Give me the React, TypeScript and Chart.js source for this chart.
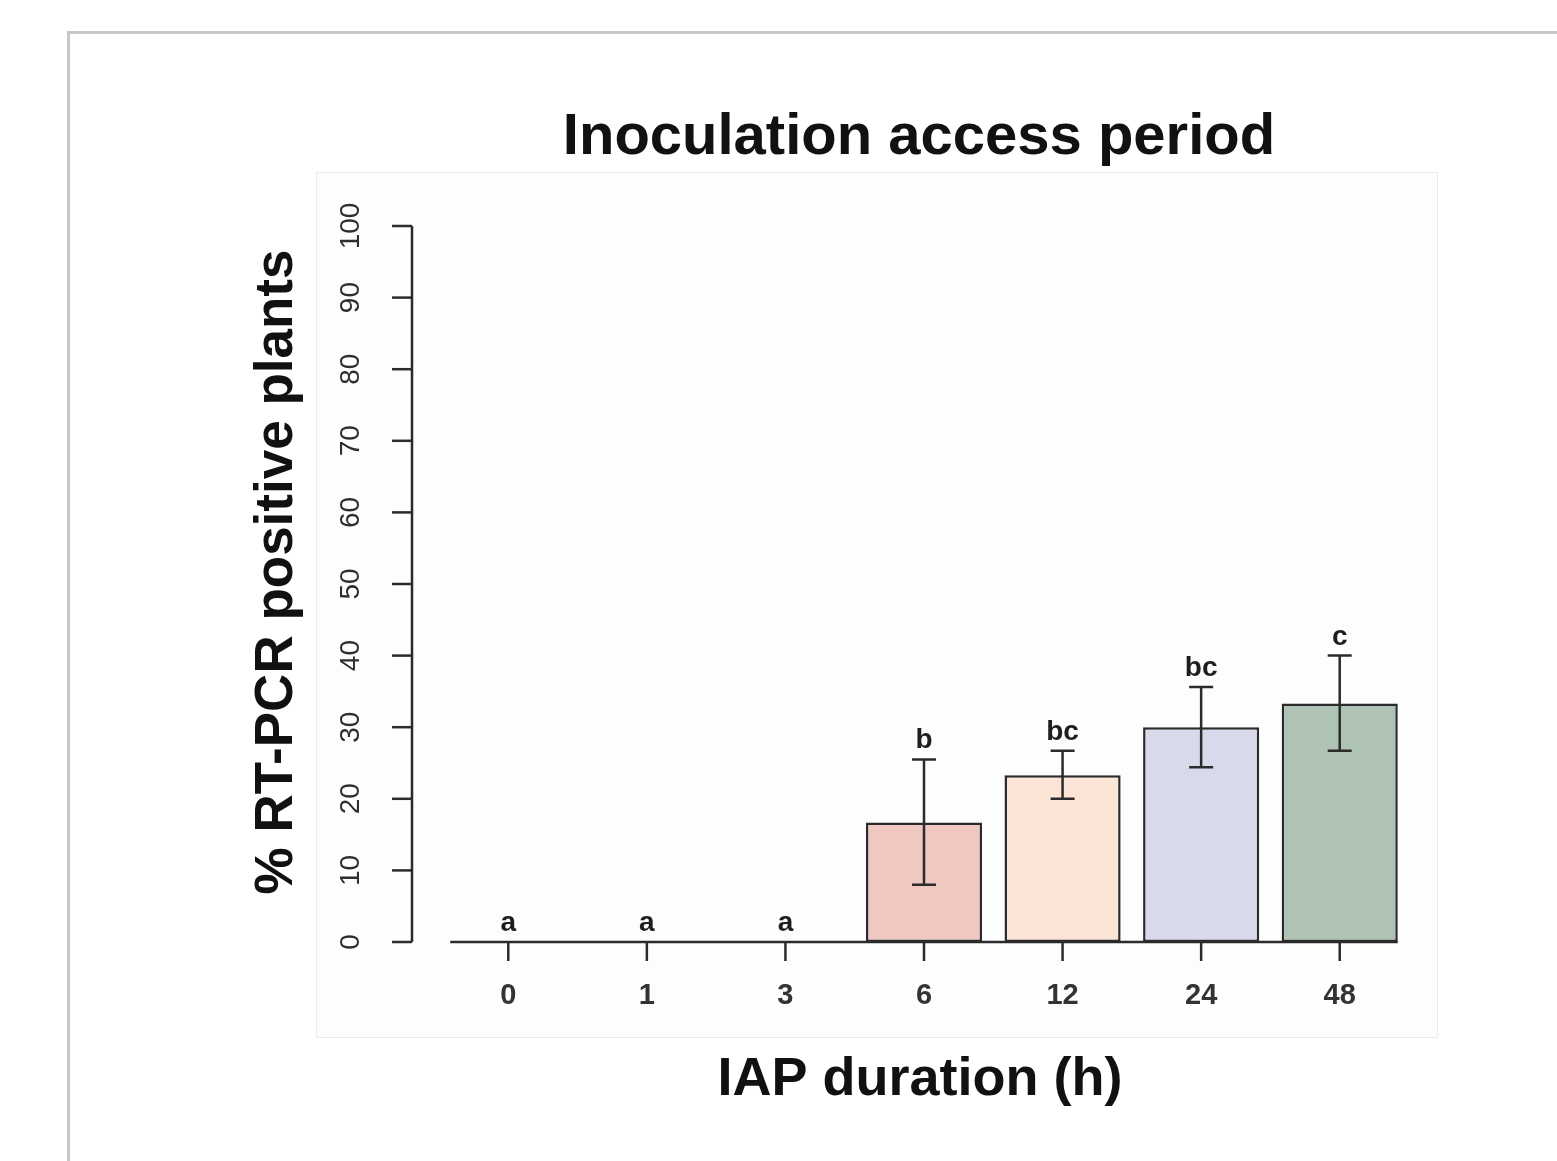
import React, { useEffect, useRef } from "react";
import { Chart, registerables } from "chart.js";

Chart.register(...registerables);

const categories = ["0", "1", "3", "6", "12", "24", "48"];
const values = [0, 0, 0, 16.7, 23.3, 30.0, 33.3];
const errLow = [null, null, null, 8.0, 20.0, 24.4, 26.7];
const errHigh = [null, null, null, 25.5, 26.7, 35.6, 40.0];
const letters = ["a", "a", "a", "b", "bc", "bc", "c"];
const barColors = ["#ffffff", "#ffffff", "#ffffff", "#f1c7c2", "#fce5d7", "#d8d9eb", "#aec3b4"];
const yTicks = [0, 10, 20, 30, 40, 50, 60, 70, 80, 90, 100];

const titleText = "Inoculation access period";
const xTitle = "IAP duration (h)";
const yTitle = "% RT-PCR positive plants";

const W = 1557;
const H = 1161;
const FONT = "'Liberation Sans', Arial, sans-serif";

const rAxesPlugin = {
  id: "rAxes",
  afterDatasetsDraw(chart: any) {
    const ctx = chart.ctx;
    const x = chart.scales.x;
    const y = chart.scales.y;
    const meta = chart.getDatasetMeta(0);
    const ink = "#2b2b2b";
    ctx.save();
    ctx.strokeStyle = ink;
    ctx.fillStyle = ink;
    ctx.lineWidth = 2.5;
    ctx.lineCap = "butt";

    // y axis (R style, offset to the left)
    const axX = 412;
    const y0 = y.getPixelForValue(yTicks[0]);
    const y1 = y.getPixelForValue(yTicks[yTicks.length - 1]);
    ctx.beginPath();
    ctx.moveTo(axX, y0);
    ctx.lineTo(axX, y1);
    ctx.stroke();
    ctx.font = `28px ${FONT}`;
    ctx.textAlign = "center";
    ctx.textBaseline = "middle";
    ctx.fillStyle = "#2e2e2e";
    yTicks.forEach((v) => {
      const py = y.getPixelForValue(v);
      ctx.beginPath();
      ctx.moveTo(axX - 20, py);
      ctx.lineTo(axX, py);
      ctx.stroke();
      ctx.save();
      ctx.translate(351, py);
      ctx.rotate(-Math.PI / 2);
      ctx.fillText(String(v), 0, 0);
      ctx.restore();
    });

    // x axis line across bars
    const first = meta.data[0];
    const last = meta.data[meta.data.length - 1];
    const base = y.getPixelForValue(0);
    ctx.beginPath();
    ctx.moveTo(first.x - first.width / 2, base);
    ctx.lineTo(last.x + last.width / 2, base);
    ctx.stroke();
    ctx.font = `bold 29px ${FONT}`;
    ctx.fillStyle = "#333";
    ctx.textBaseline = "middle";
    categories.forEach((c, i) => {
      const px = x.getPixelForValue(i);
      ctx.beginPath();
      ctx.moveTo(px, base);
      ctx.lineTo(px, base + 19);
      ctx.stroke();
      ctx.fillText(c, px, base + 54);
    });

    // error bars
    ctx.strokeStyle = ink;
    ctx.lineWidth = 2.5;
    meta.data.forEach((bar: any, i: number) => {
      const lo = errLow[i];
      const hi = errHigh[i];
      if (lo == null || hi == null) return;
      const pl = y.getPixelForValue(lo);
      const ph = y.getPixelForValue(hi);
      ctx.beginPath();
      ctx.moveTo(bar.x, pl);
      ctx.lineTo(bar.x, ph);
      ctx.moveTo(bar.x - 12, pl);
      ctx.lineTo(bar.x + 12, pl);
      ctx.moveTo(bar.x - 12, ph);
      ctx.lineTo(bar.x + 12, ph);
      ctx.stroke();
    });

    // significance letters
    ctx.font = `bold 28px ${FONT}`;
    ctx.fillStyle = "#1e1e1e";
    ctx.textBaseline = "alphabetic";
    meta.data.forEach((bar: any, i: number) => {
      const hi = errHigh[i];
      const top = hi != null ? y.getPixelForValue(hi) : y.getPixelForValue(0);
      ctx.fillText(letters[i], bar.x, top - 11);
    });

    // titles
    ctx.fillStyle = "#111";
    ctx.font = `bold 58px ${FONT}`;
    ctx.textBaseline = "alphabetic";
    ctx.fillText(titleText, 919, 154);
    ctx.font = `bold 54px ${FONT}`;
    ctx.textBaseline = "middle";
    ctx.fillText(xTitle, 920, 1080);
    ctx.save();
    ctx.translate(277, 572);
    ctx.rotate(-Math.PI / 2);
    ctx.font = `bold 53px ${FONT}`;
    ctx.fillText(yTitle, 0, 0);
    ctx.restore();

    ctx.restore();
  },
};

export default function App() {
  const ref = useRef<HTMLCanvasElement | null>(null);
  useEffect(() => {
    if (!ref.current) return;
    const chart = new Chart(ref.current, {
      type: "bar",
      data: {
        labels: categories,
        datasets: [
          {
            data: values,
            backgroundColor: barColors,
            borderColor: "#2b2b2b",
            borderWidth: 2.5,
            borderSkipped: false,
            categoryPercentage: 1,
            barPercentage: 0.838,
          },
        ],
      },
      options: {
        responsive: false,
        animation: false,
        devicePixelRatio: 1,
        layout: { padding: { left: 439, right: 148, top: 226, bottom: 219 } },
        plugins: { legend: { display: false }, tooltip: { enabled: false }, title: { display: false } },
        scales: {
          x: { display: false, offset: true },
          y: { display: false, min: 0, max: 100 },
        },
      },
      plugins: [rAxesPlugin],
    });
    return () => chart.destroy();
  }, []);

  return (
    <div style={{ position: "absolute", left: 0, top: 0, width: W, height: H, background: "#fff", overflow: "hidden" }}>
      <div
        style={{
          position: "absolute",
          left: 67,
          top: 31,
          width: W - 67,
          height: H - 31,
          borderLeft: "3px solid #c4c8cc",
          borderTop: "3px solid #c4c8cc",
          boxSizing: "border-box",
        }}
      />
      <div
        style={{
          position: "absolute",
          left: 316,
          top: 172,
          width: 1122,
          height: 866,
          border: "1px solid #ebebeb",
          background: "#fdfdfd",
          boxSizing: "border-box",
        }}
      />
      <canvas ref={ref} width={W} height={H} style={{ position: "absolute", left: 0, top: 0, width: W, height: H }} />
    </div>
  );
}
